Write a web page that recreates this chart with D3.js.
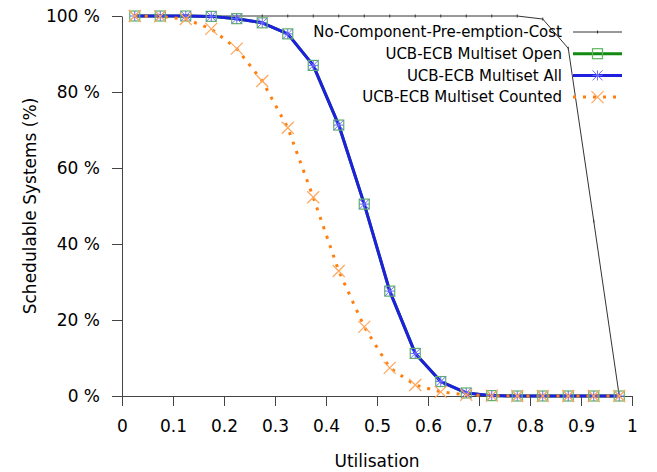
<!DOCTYPE html>
<html>
<head>
<meta charset="utf-8">
<script src="https://cdn.jsdelivr.net/npm/d3@7"></script>
<style>
  body { margin: 0; background: #fff; }
  text { font-family: "DejaVu Sans", sans-serif; fill: #000; }
</style>
</head>
<body>
<div id="chart"></div>
<script>
// utilisation steps (x)
var utilisation = [0.025, 0.075, 0.125, 0.175, 0.225, 0.275, 0.325, 0.375, 0.425, 0.475,
                   0.525, 0.575, 0.625, 0.675, 0.725, 0.775, 0.825, 0.875, 0.925, 0.975];
// schedulable systems (%) per series
var noCost   = [100, 100, 100, 100, 100, 100, 100, 100, 100, 100,
                100, 100, 100, 100, 100, 100, 99.2, 91.5, 46, 0];
var openSet  = [100, 100, 100, 99.9, 99.3, 98.2, 95.3, 87, 71.3, 50.5,
                27.6, 11.2, 3.8, 0.8, 0.1, 0, 0, 0, 0, 0];
var allSet   = [100, 100, 100, 99.9, 99.3, 98.2, 95.3, 87, 71.3, 50.5,
                27.6, 11.2, 3.8, 0.8, 0.1, 0, 0, 0, 0, 0];
var counted  = [100, 99.9, 99.2, 96.6, 91.4, 82.9, 70.6, 52.3, 32.9, 18.2,
                7.4, 2.9, 1.1, 0.3, 0.1, 0, 0, 0, 0, 0];
var seriesNames = ["No-Component-Pre-emption-Cost", "UCB-ECB Multiset Open",
                   "UCB-ECB Multiset All", "UCB-ECB Multiset Counted"];
var xTicks = [0, 0.1, 0.2, 0.3, 0.4, 0.5, 0.6, 0.7, 0.8, 0.9, 1];
var yTicks = [0, 20, 40, 60, 80, 100];

var W = 657, H = 472;
var svg = d3.select("#chart").append("svg")
  .attr("width", W).attr("height", H);

var x = d3.scaleLinear().domain([0, 1]).range([122, 632]);
var y = d3.scaleLinear().domain([0, 100]).range([396, 16]);

// axes (gnuplot style: left + bottom border, outward ticks)
var xAxis = svg.append("g")
  .attr("transform", "translate(0," + y(0) + ")")
  .call(d3.axisBottom(x).tickValues(xTicks).tickSize(10).tickSizeOuter(0)
    .tickFormat(function (d) { return String(d); }));
var yAxis = svg.append("g")
  .attr("transform", "translate(" + x(0) + ",0)")
  .call(d3.axisLeft(y).tickValues(yTicks).tickSize(10).tickSizeOuter(0)
    .tickFormat(function (d) { return d + " %"; }));

[xAxis, yAxis].forEach(function (g) {
  g.select(".domain").attr("stroke", "#444");
  g.selectAll(".tick line").attr("stroke", "#444");
  g.selectAll(".tick text").style("font-size", "17px").attr("fill", "#000");
});
xAxis.selectAll(".tick text").attr("y", 24).attr("dy", "0.71em");
yAxis.selectAll(".tick text").attr("x", -22).attr("dy", "0.34em");

svg.append("text")
  .attr("x", 377).attr("y", 467)
  .attr("text-anchor", "middle")
  .style("font-size", "17px")
  .text("Utilisation");
svg.append("text")
  .attr("transform", "translate(36,206) rotate(-90)")
  .attr("text-anchor", "middle")
  .style("font-size", "17px")
  .text("Schedulable Systems (%)");

function pts(vals) {
  return utilisation.map(function (u, i) { return [u, vals[i]]; });
}
var line = d3.line().x(function (d) { return x(d[0]); }).y(function (d) { return y(d[1]); });

// marker helpers
function square(g, cx, cy) {
  g.append("rect").attr("x", cx - 5).attr("y", cy - 5).attr("width", 10).attr("height", 10)
    .attr("fill", "none").attr("stroke", "#5fb55f").attr("stroke-width", 1.2);
}
function star(g, cx, cy) {
  var r = 5;
  g.append("path")
    .attr("d", "M" + (cx - r) + "," + cy + "H" + (cx + r) + "M" + cx + "," + (cy - r) + "V" + (cy + r) +
               "M" + (cx - r) + "," + (cy - r) + "L" + (cx + r) + "," + (cy + r) +
               "M" + (cx - r) + "," + (cy + r) + "L" + (cx + r) + "," + (cy - r))
    .attr("stroke", "#6a6aff").attr("stroke-width", 1).attr("fill", "none");
}
function cross(g, cx, cy) {
  var r = 6;
  g.append("path")
    .attr("d", "M" + (cx - r) + "," + (cy - r) + "L" + (cx + r) + "," + (cy + r) +
               "M" + (cx - r) + "," + (cy + r) + "L" + (cx + r) + "," + (cy - r))
    .attr("stroke", "#ffa65c").attr("stroke-width", 1.2).attr("fill", "none");
}
function dot(g, cx, cy) {
  g.append("line").attr("x1", cx).attr("x2", cx).attr("y1", cy - 1.5).attr("y2", cy + 1.5)
    .attr("stroke", "#333").attr("stroke-width", 1);
}

var series = [
  { vals: noCost,  color: "#333333", width: 1, dash: null,  mark: dot },
  { vals: openSet, color: "#108a10", width: 3, dash: null,  mark: square },
  { vals: allSet,  color: "#1f1fe0", width: 3, dash: null,  mark: star },
  { vals: counted, color: "#ff7f0e", width: 3, dash: "3,7", mark: cross }
];

var plot = svg.append("g");
series.forEach(function (s) {
  plot.append("path")
    .datum(pts(s.vals))
    .attr("d", line)
    .attr("fill", "none")
    .attr("stroke", s.color)
    .attr("stroke-width", s.width)
    .attr("stroke-dasharray", s.dash)
    .attr("stroke-linejoin", "round");
});
series.forEach(function (s) {
  var mg = plot.append("g");
  pts(s.vals).forEach(function (p) { s.mark(mg, x(p[0]), y(p[1])); });
});

// legend
var legend = svg.append("g");
series.forEach(function (s, i) {
  var ly = 32 + i * 21.7;
  legend.append("text")
    .attr("x", 562).attr("y", ly).attr("dy", "0.35em")
    .attr("text-anchor", "end")
    .style("font-size", "15px")
    .text(seriesNames[i]);
  legend.append("line")
    .attr("x1", 573).attr("x2", 622).attr("y1", ly).attr("y2", ly)
    .attr("stroke", s.color).attr("stroke-width", s.width)
    .attr("stroke-dasharray", s.dash);
  s.mark(legend, 597.5, ly);
});
</script>
</body>
</html>
